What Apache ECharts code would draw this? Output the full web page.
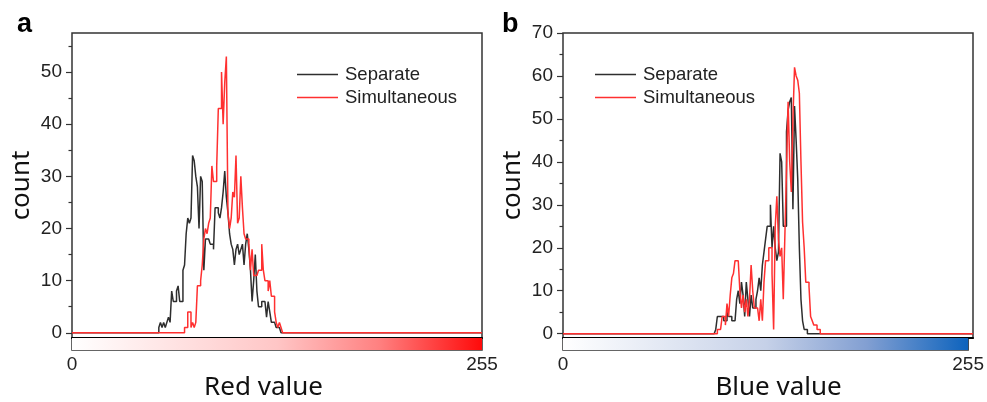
<!DOCTYPE html>
<html>
<head>
<meta charset="utf-8">
<script src="https://cdn.jsdelivr.net/npm/echarts@6/dist/echarts.min.js"></script>
<style>
html, body { margin: 0; padding: 0; background: #fff; }
#chart { width: 987px; height: 402px; }
</style>
</head>
<body>
<div id="chart"></div>
<script>
// histogram counts, one value per bin starting at the given bin
var sepStartA = 54;
var sepCountsA = [1, 2, 1, 2, 1, 2, 3, 2, 8, 6, 6, 8, 9, 6, 6, 12, 13, 19, 22, 21,
    22, 34, 33, 30, 28, 20, 30, 29, 12, 18, 18, 18, 17, 17, 16, 24, 24, 23, 22, 24,
    27, 31, 26, 23, 19, 17, 16, 13, 16, 17, 15, 16, 17, 13, 17, 19, 16, 12, 6, 10,
    15, 8, 5, 5, 6, 6, 6, 3, 6, 4, 2, 2, 2, 1, 1, 1];
var simStartA = 70;
var simCountsA = [1, 1, 4, 4, 1, 2, 1, 2, 9, 9, 10, 13, 18, 20, 19, 21, 22, 32, 29, 29,
    32, 43, 43, 50, 40, 48, 53, 23, 20, 22, 27, 26, 34, 21, 22, 30, 24, 19, 18, 18,
    17, 12, 16, 11, 11, 11, 12, 12, 17, 12, 10, 10, 8, 10, 7, 7, 4, 2, 1, 2, 1];
var sepStartB = 95;
var sepCountsB = [1, 4, 4, 4, 4, 3, 3, 5, 4, 4, 3, 3, 3, 8, 10, 7, 12, 9, 4, 12,
    8, 4, 9, 6, 6, 8, 10, 13, 10, 16, 19, 22, 25, 25, 30, 20, 25, 20, 17, 19,
    42, 40, 25, 25, 47, 52, 54, 55, 29, 53, 45, 36, 20, 8, 3, 1, 1];
var simStartB = 96;
var simCountsB = [1, 1, 1, 4, 4, 2, 7, 4, 9, 13, 14, 17, 17, 17, 10, 6, 9, 5, 8, 4,
    8, 16, 10, 6, 6, 6, 3, 8, 3, 12, 17, 17, 20, 20, 14, 1, 25, 32, 22, 18,
    20, 8, 23, 38, 54, 40, 33, 50, 62, 60, 59, 56, 40, 26, 20, 12, 12, 11, 4, 3,
    2, 2, 1, 1];

var xTickLabels = [0, 255];
var yTicksA = [0, 10, 20, 30, 40, 50];
var yMinorA = [5, 15, 25, 35, 45, 55];
var yTicksB = [0, 10, 20, 30, 40, 50, 60, 70];
var yMinorB = [5, 15, 25, 35, 45, 55, 65];

function fullHist(start, counts) {
    var out = [];
    for (var v = 0; v <= 255; v++) {
        var c = (v >= start && v < start + counts.length) ? counts[v - start] : 0;
        out.push([v, c]);
    }
    return out;
}

var chart = echarts.init(document.getElementById('chart'));

var tickFont = { fontFamily: 'Liberation Sans', fontSize: 19, color: '#222' };
var nameFont = { fontFamily: 'Noto Sans', fontSize: 26, color: '#111' };
var frame = { show: true, borderColor: '#333', borderWidth: 1.5, backgroundColor: 'transparent' };

var redBar = new echarts.graphic.LinearGradient(0, 0, 1, 0, [
    { offset: 0, color: '#ffffff' },
    { offset: 0.5, color: '#ffc6c6' },
    { offset: 0.75, color: '#ff8080' },
    { offset: 1, color: '#ff0a0a' }
]);
var blueBar = new echarts.graphic.LinearGradient(0, 0, 1, 0, [
    { offset: 0, color: '#ffffff' },
    { offset: 0.5, color: '#c6d1e8' },
    { offset: 0.75, color: '#829fd2' },
    { offset: 1, color: '#0d63bd' }
]);

// plot x axis: only its line is drawn, the dark rule above the colour bar
function plotX(grid) {
    return { type: 'value', gridIndex: grid, min: 0, max: 255,
        axisLine: { show: true, onZero: false, lineStyle: { color: '#000', width: 2 } }, axisTick: { show: false },
        axisLabel: { show: false }, splitLine: { show: false } };
}
function barX(grid, name, pad) {
    return { type: 'value', gridIndex: grid, min: 0, max: 255,
        axisLine: { show: false }, axisTick: { show: false },
        axisLabel: Object.assign({ customValues: xTickLabels, margin: 5 }, tickFont),
        splitLine: { show: false },
        name: name, nameLocation: 'middle', nameGap: 18,
        nameTextStyle: Object.assign({ padding: pad }, nameFont) };
}
function majorY(grid, max, ticks) {
    return { type: 'value', gridIndex: grid, min: -1, max: max, position: 'left',
        axisLine: { show: false },
        axisTick: { show: true, customValues: ticks, length: 6, lineStyle: { color: '#333', width: 1.2 } },
        axisLabel: Object.assign({ customValues: ticks, margin: 10 }, tickFont),
        splitLine: { show: false },
        name: 'count', nameLocation: 'middle', nameGap: 37, nameTextStyle: nameFont };
}
function minorY(grid, max, ticks) {
    return { type: 'value', gridIndex: grid, min: -1, max: max, position: 'left',
        axisLine: { show: false },
        axisTick: { show: true, customValues: ticks, length: 3.5, lineStyle: { color: '#333', width: 1.2 } },
        axisLabel: { show: false }, splitLine: { show: false } };
}
function barY(grid) {
    return { type: 'value', gridIndex: grid, min: 0, max: 1, show: false };
}
function hist(name, color, xi, yi, data) {
    return { name: name, type: 'line', step: 'end', xAxisIndex: xi, yAxisIndex: yi,
        symbol: 'none', data: data, lineStyle: { color: color, width: 1.5 },
        itemStyle: { color: color }, animation: false };
}
function colorBar(xi, yi, fill) {
    return { type: 'line', xAxisIndex: xi, yAxisIndex: yi, data: [], silent: true,
        markArea: { silent: true, itemStyle: { color: fill, opacity: 1 },
            data: [[{ coord: [0, 0] }, { coord: [255, 1] }]] } };
}
function legendAt(left) {
    return { orient: 'vertical', left: left, top: 64, icon: 'rect', itemWidth: 41, itemHeight: 1.5,
        itemGap: 2, padding: 0, data: ['Separate', 'Simultaneous'],
        textStyle: { fontFamily: 'Liberation Sans', fontSize: 18.5, lineHeight: 21, color: '#222', padding: [0, 0, 0, 2] } };
}

var option = {
    backgroundColor: '#fff',
    animation: false,
    title: [
        { text: 'a', left: 12, top: 6, textStyle: { fontFamily: 'Liberation Sans', fontSize: 27, fontWeight: 'bold', color: '#000' } },
        { text: 'b', left: 497, top: 6, textStyle: { fontFamily: 'Liberation Sans', fontSize: 27, fontWeight: 'bold', color: '#000' } }
    ],
    legend: [legendAt(297), legendAt(595)],
    grid: [
        Object.assign({ left: 72, top: 33, width: 410, height: 305 }, frame),
        Object.assign({ left: 72, top: 338, width: 410, height: 18 }, frame),
        Object.assign({ left: 563, top: 33, width: 410, height: 305 }, frame),
        Object.assign({ left: 563, top: 338, width: 410, height: 18 }, frame)
    ],
    xAxis: [plotX(0), barX(1, 'Red value', [0, 27, 0, 0]), plotX(2), barX(3, 'Blue value', [0, 0, 0, 26])],
    yAxis: [majorY(0, 57.5, yTicksA), minorY(0, 57.5, yMinorA), barY(1),
            majorY(2, 70, yTicksB), minorY(2, 70, yMinorB), barY(3)],
    series: [
        hist('Separate', '#2e2e2e', 0, 0, fullHist(sepStartA, sepCountsA)),
        hist('Simultaneous', '#ff3030', 0, 0, fullHist(simStartA, simCountsA)),
        colorBar(1, 2, redBar),
        hist('Separate', '#2e2e2e', 2, 3, fullHist(sepStartB, sepCountsB)),
        hist('Simultaneous', '#ff3030', 2, 3, fullHist(simStartB, simCountsB)),
        colorBar(3, 5, blueBar)
    ]
};

chart.setOption(option);
</script>
</body>
</html>
